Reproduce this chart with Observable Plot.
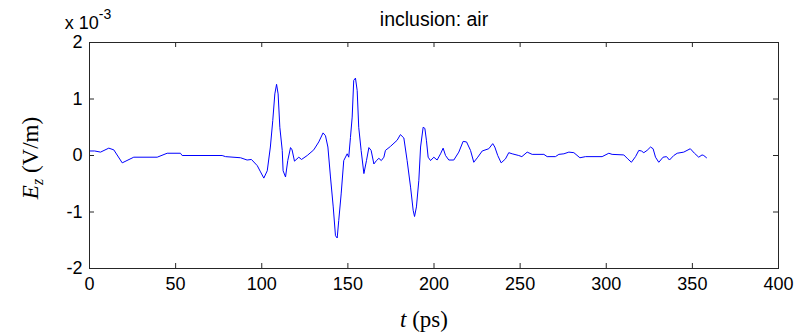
<!DOCTYPE html>
<html>
<head>
<meta charset="utf-8">
<script src="https://cdn.jsdelivr.net/npm/d3@7"></script>
<script src="https://cdn.jsdelivr.net/npm/@observablehq/plot@0.6"></script>
<style>
  body { margin: 0; background: #fff; }
  svg { font-family: Arial, "Liberation Sans", sans-serif; }
</style>
</head>
<body>
<div id="chart"></div>
<script>
// time in ps
const tValues = [0, 3, 6.4, 11.2, 14.1, 19, 25.7, 39.3, 45.1, 52.8, 53.8, 77, 79, 87.7, 91.5, 94, 97.4, 99.3, 101.2, 103.2,
  105, 106.4, 107.6, 108.6, 109.5, 110.5, 111.9, 112.4, 113.8, 115.1, 116.7, 117.6, 119, 121.5, 123.1, 126.4, 130.2, 133.1,
  135.6, 137, 138.4, 139.9, 141.5, 142.8, 143.8, 144.7, 146.1, 147.6, 149.6, 150.5, 151.5, 152.5, 153.4, 154.4, 155.4,
  156.3, 157.7, 159.3, 160.8, 162.2, 163.5, 165.1, 166.6, 168, 169.4, 170.9, 171.8, 174.7, 178.6, 180.5, 182.5, 184.4,
  186.4, 187.9, 188.7, 189.8, 191.2, 192.2, 193.7, 194.7, 195.6, 196.6, 198, 199.9, 201.8, 203.8, 205.3, 206.7, 208.6,
  211.5, 214.4, 216.9, 218.9, 221.2, 223.1, 225.4, 228, 231.8, 234.1, 235.3, 237, 239, 241.5, 243.4, 245.4, 249.2, 251,
  254.1, 257, 263.8, 265.7, 270.5, 272.5, 275.4, 278.3, 281.2, 284.7, 288, 297.6, 301.5, 303.4, 310.2, 312.5, 314.6,
  317, 318.9, 320.4, 321.8, 323.7, 325.7, 327.2, 328.6, 330.5, 333, 335, 336.7, 339.2, 341.2, 345, 348.8, 351.2, 353.7,
  355.6, 356.6, 358.2];
// Ez in units of 1e-3 V/m
const ezValues = [0.08, 0.08, 0.06, 0.13, 0.10, -0.13, -0.03, -0.03, 0.04, 0.04, 0, 0, -0.02, -0.04, -0.08, -0.07, -0.18, -0.29, -0.40, -0.27,
  0.15, 0.62, 1.09, 1.26, 1.09, 0.50, 0.09, -0.27, -0.38, -0.09, 0.14, 0.10, -0.10, -0.03, -0.07, 0, 0.10, 0.24,
  0.40, 0.35, 0.15, -0.38, -0.91, -1.42, -1.46, -1.15, -0.68, -0.09, 0.03, -0.03, 0.32, 0.68, 1.33, 1.37, 1.15,
  0.50, 0.09, -0.32, -0.09, 0.14, 0.09, -0.15, -0.09, -0.05, -0.09, -0.03, 0.09, 0.16, 0.27, 0.37, 0.31, -0.09,
  -0.56, -0.97, -1.08, -0.91, -0.44, 0.15, 0.50, 0.48, 0.27, -0.03, -0.09, -0.03, -0.08, 0.03, 0.13, 0, -0.08,
  -0.08, 0.06, 0.25, 0.24, 0.09, -0.12, -0.03, 0.08, 0.12, 0.21, 0.15, 0, -0.13, -0.06, 0.05, 0.03, 0, -0.02,
  0.06, 0.02, 0.02, -0.02, -0.02, 0.02, 0.03, 0.06, 0.05, -0.04, -0.02, -0.02, 0.04, 0.02, 0.01, -0.06, -0.12,
  -0.02, 0.09, 0.08, 0.05, 0.09, 0.15, 0.12, -0.03, -0.12, -0.03, -0.02, -0.08, 0, 0.04, 0.06, 0.12, 0.04, -0.03,
  0.01, 0, -0.04];
const xTicks = [0, 50, 100, 150, 200, 250, 300, 350, 400];
const yTicks = [-2, -1, 0, 1, 2];
const titleText = "inclusion: air";

const data = tValues.map((t, i) => ({t, ez: ezValues[i]}));

const W = 805, H = 336;
const mL = 89, mR = 27, mT = 42, mB = 68;
const plotW = W - mL - mR, plotH = H - mT - mB;
const tickLen = 5;
const ink = "#262626";
const sans = "Arial, 'Liberation Sans', sans-serif";
const serif = "'Times New Roman', 'Liberation Serif', 'DejaVu Serif', serif";

const chart = Plot.plot({
  width: W, height: H,
  marginLeft: mL, marginRight: mR, marginTop: mT, marginBottom: mB,
  style: {fontFamily: sans, fontSize: "18px", color: ink, background: "#fff"},
  x: {domain: [0, 400], ticks: xTicks, label: null},
  y: {domain: [-2, 2], ticks: yTicks, label: null},
  marks: [
    Plot.axisX(xTicks, {tickSize: 0, tickPadding: 9, tickFormat: d => String(d), fontSize: 18, fill: "#000", label: null}),
    Plot.axisY(yTicks, {tickSize: 0, tickPadding: 7, tickFormat: d => String(d), fontSize: 18, fill: "#000", label: null}),
    // inward ticks, bottom and top
    Plot.ruleX(xTicks, {x: d => d, insetTop: plotH - tickLen, stroke: ink}),
    Plot.ruleX(xTicks, {x: d => d, insetBottom: plotH - tickLen, stroke: ink}),
    // inward ticks, left and right
    Plot.ruleY(yTicks, {y: d => d, insetRight: plotW - tickLen, stroke: ink}),
    Plot.ruleY(yTicks, {y: d => d, insetLeft: plotW - tickLen, stroke: ink}),
    Plot.line(data, {x: "t", y: "ez", stroke: "#0000ff", strokeWidth: 1}),
    Plot.frame({stroke: ink, strokeWidth: 1}),
    Plot.text([titleText], {frameAnchor: "top", lineAnchor: "bottom", dy: -17, fontSize: 19.5, fill: "#000", text: d => d})
  ]
});

document.getElementById("chart").append(chart);

const svg = d3.select(chart);
// exponent label
const ex = svg.append("text").attr("x", mL - 1).attr("y", mT - 13)
  .attr("font-family", sans).attr("font-size", 18).attr("fill", "#000");
ex.append("tspan").text("x 10");
ex.append("tspan").attr("dy", -10).attr("font-size", 14).text("-3");

// y label
const yl = svg.append("text")
  .attr("transform", `translate(38,158) rotate(-90)`)
  .attr("text-anchor", "middle")
  .attr("font-family", serif).attr("font-size", 23).attr("fill", "#000");
yl.append("tspan").attr("font-style", "italic").text("E");
yl.append("tspan").attr("dy", 5).attr("font-size", 16).attr("font-style", "italic").text("z");
yl.append("tspan").attr("dy", -5).text(" (V/m)");

// x label
const xl = svg.append("text")
  .attr("x", 424).attr("y", 327)
  .attr("text-anchor", "middle")
  .attr("font-family", serif).attr("font-size", 23).attr("fill", "#000");
xl.append("tspan").attr("font-style", "italic").text("t");
xl.append("tspan").text(" (ps)");
</script>
</body>
</html>
